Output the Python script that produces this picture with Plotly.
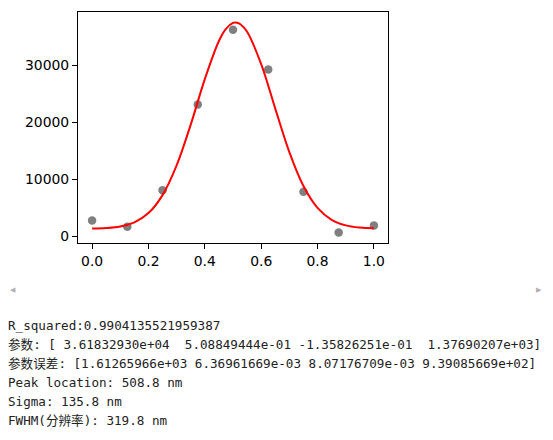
import plotly.graph_objects as go

# measured data points
x_data = [0.0, 0.125, 0.25, 0.375, 0.5, 0.625, 0.75, 0.875, 1.0]
y_data = [2800, 1700, 8100, 23150, 36300, 29300, 7850, 700, 1950]

# fitted curve
x_fit = [0.0, 0.05, 0.1, 0.15, 0.2, 0.25, 0.3, 0.35, 0.4, 0.45, 0.475, 0.5, 0.51, 0.525,
         0.55, 0.6, 0.65, 0.7, 0.75, 0.8, 0.85, 0.9, 0.95, 1.0]
y_fit = [1409, 1497, 1767, 2481, 4106, 7264, 12474, 19642, 27628, 34322, 36457, 37484, 37560, 37304,
         35932, 30255, 22454, 14808, 8852, 5010, 2918, 1948, 1562, 1430]

x_ticks = [0.0, 0.2, 0.4, 0.6, 0.8, 1.0]
y_ticks = [0, 10000, 20000, 30000]

text_lines = [
    "R_squared:0.9904135521959387",
    "参数: [ 3.61832930e+04  5.08849444e-01 -1.35826251e-01  1.37690207e+03]",
    "参数误差: [1.61265966e+03 6.36961669e-03 8.07176709e-03 9.39085669e+02]",
    "Peak location: 508.8 nm",
    "Sigma: 135.8 nm",
    "FWHM(分辨率): 319.8 nm",
]

W, H = 553, 440
L, R, T, B = 78, 388, 12, 243

def px(xp):
    return (xp - L) / (R - L)

def py(yp):
    return (B - yp) / (B - T)

fig = go.Figure()
fig.add_trace(go.Scatter(x=x_data, y=y_data, mode="markers",
                         marker=dict(color="#808080", size=8.5, line=dict(width=0)),
                         showlegend=False))
fig.add_trace(go.Scatter(x=x_fit, y=y_fit, mode="lines", line_shape="spline",
                         line=dict(color="#ff0000", width=2), showlegend=False))

axis_common = dict(showline=True, linecolor="black", linewidth=1.1, mirror=True,
                   ticks="outside", ticklen=5, tickwidth=1.1, tickcolor="black",
                   showgrid=False, zeroline=False,
                   tickfont=dict(family="DejaVu Sans", size=13.9, color="black"))

fig.update_xaxes(range=[-0.05, 1.05], tickvals=x_ticks, tickformat=".1f", **axis_common)
fig.update_yaxes(range=[-1141, 39403], tickvals=y_ticks, tickformat="d", **axis_common)

annotations = []
mono = dict(family="DejaVu Sans Mono, Noto Sans CJK SC", size=12.6, color="#222222")
y0 = 325.5
for i, line in enumerate(text_lines):
    annotations.append(dict(text=line.replace(" ", "\u00a0"), xref="paper", yref="paper",
                            x=px(6), y=py(y0 + 19 * i), xanchor="left", yanchor="middle",
                            showarrow=False, font=mono))
annotations.append(dict(text="◀", xref="paper", yref="paper", x=px(13), y=py(289),
                        xanchor="center", yanchor="middle", showarrow=False,
                        font=dict(size=7, color="#b0b0b0")))
annotations.append(dict(text="▶", xref="paper", yref="paper", x=px(539), y=py(289),
                        xanchor="center", yanchor="middle", showarrow=False,
                        font=dict(size=7, color="#b0b0b0")))

fig.update_layout(width=W, height=H, margin=dict(l=L, r=W - R, t=T, b=H - B),
                  plot_bgcolor="white", paper_bgcolor="white",
                  annotations=annotations)

fig.write_html("out.html")
